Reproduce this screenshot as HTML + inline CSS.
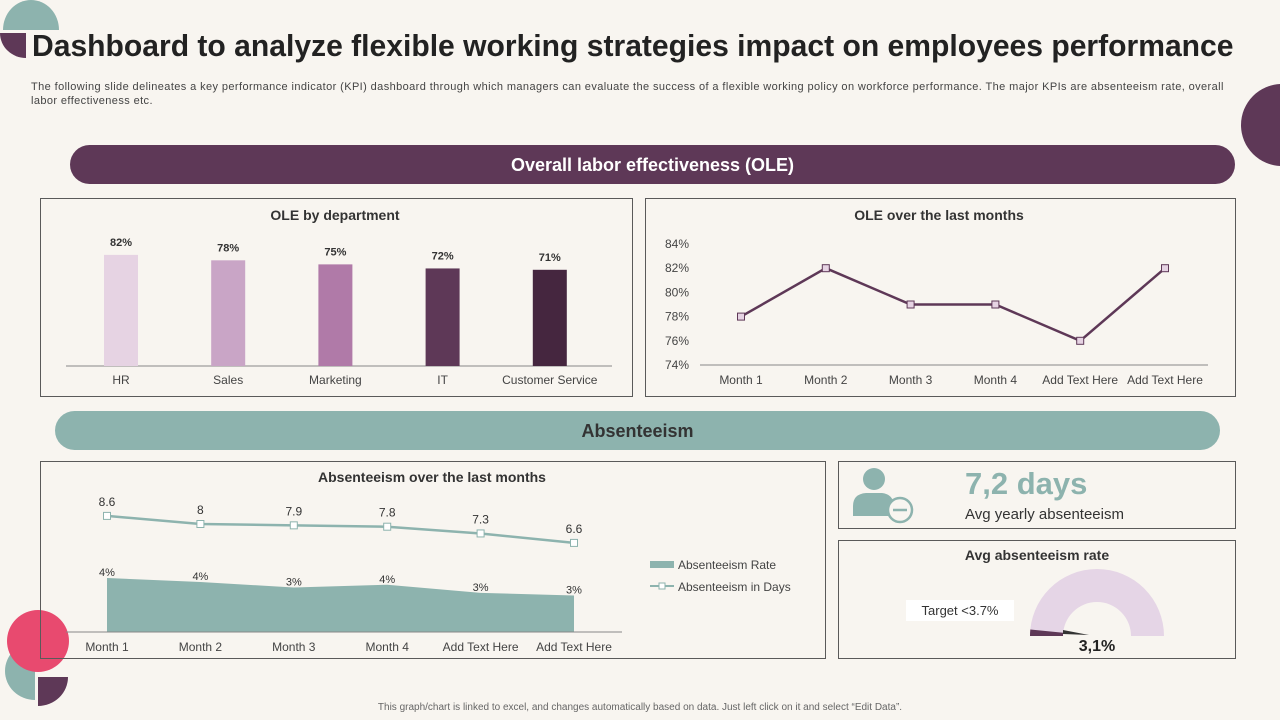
<!DOCTYPE html>
<html><head><meta charset="utf-8">
<style>
body{margin:0;width:1280px;height:720px;background:#f8f5f0;font-family:"Liberation Sans",sans-serif;overflow:hidden;position:relative}
.abs{position:absolute}
.panel{position:absolute;border:1px solid #5a5a5a;box-sizing:border-box}
svg text{font-family:"Liberation Sans",sans-serif}
</style></head><body>
<svg class="abs" style="left:0;top:0" width="1280" height="720">
<path d="M3,30 A28,30 0 0 1 59,30 Z" fill="#8db3ae"/>
<path d="M0,33 L26,33 L26,58 A26,25 0 0 1 0,33 Z" fill="#5e3857"/>
<circle cx="1282" cy="125" r="41" fill="#5e3857"/>
<path d="M35,642 L35,700 A30,29 0 0 1 35,642 Z" fill="#8db3ae"/>
<circle cx="38" cy="641" r="31" fill="#e84a6f"/>
<path d="M38,677 L68,677 A30,29 0 0 1 38,706 Z" fill="#5e3857"/>
</svg>
<div class="abs" style="left:32px;top:28px;font-size:31px;font-weight:bold;color:#222;white-space:nowrap;transform:scaleX(0.97);transform-origin:left">Dashboard to analyze flexible working strategies impact on employees performance</div>
<div class="abs" style="left:31px;top:80px;width:1240px;font-size:11px;line-height:14px;color:#444;letter-spacing:0.4px;white-space:nowrap">The following slide delineates a key performance indicator (KPI) dashboard through which managers can evaluate the success of a flexible working policy on workforce performance. The major KPIs are absenteeism rate, overall<br>labor effectiveness etc.</div>
<div class="abs" style="left:70px;top:145px;width:1165px;height:39px;border-radius:20px;background:#5e3857;color:#fff;font-weight:bold;font-size:18px;text-align:center;line-height:40px">Overall labor effectiveness (OLE)</div>
<div class="abs" style="left:55px;top:411px;width:1165px;height:39px;border-radius:20px;background:#8db3ae;color:#333;font-weight:bold;font-size:18px;text-align:center;line-height:40px">Absenteeism</div>

<div class="panel" style="left:40px;top:198px;width:593px;height:199px"></div>
<div class="panel" style="left:645px;top:198px;width:591px;height:199px"></div>
<div class="panel" style="left:40px;top:461px;width:786px;height:198px"></div>
<div class="panel" style="left:838px;top:461px;width:398px;height:68px"></div>
<div class="panel" style="left:838px;top:540px;width:398px;height:119px"></div>

<svg id="c" class="abs" style="left:0;top:0" width="1280" height="720"></svg>

<div class="abs" style="left:965px;top:466px;font-size:31px;font-weight:bold;color:#8db3ae">7,2 days</div>
<div class="abs" style="left:965px;top:506px;font-size:15px;color:#333">Avg yearly absenteeism</div>
<svg class="abs" style="left:848px;top:464px" width="70" height="60">
<circle cx="26" cy="15" r="11" fill="#8db3ae"/>
<path d="M5,52 L5,42 Q5,30 18,29 L34,29 Q44,30 46,40 L46,52 Z" fill="#8db3ae"/>
<circle cx="52" cy="46" r="12" fill="#f8f5f0" stroke="#8db3ae" stroke-width="2.5"/>
<line x1="45" y1="46" x2="59" y2="46" stroke="#8db3ae" stroke-width="2.5"/>
</svg>
<div class="abs" style="left:906px;top:600px;width:108px;height:21px;background:#fff;font-size:13px;color:#333;text-align:center;line-height:21px">Target &lt;3.7%</div>
<div class="abs" style="left:0;top:702px;width:1280px;text-align:center;font-size:10px;color:#666">This graph/chart is linked to excel, and changes automatically based on data. Just left click on it and select “Edit Data”.</div>

<script>
const deptCats=["HR","Sales","Marketing","IT","Customer Service"];
const deptVals=[82,78,75,72,71];
const deptColors=["#e6d3e3","#c9a5c6","#b07aa8","#5e3857","#45263f"];
const oleMonths=["Month 1","Month 2","Month 3","Month 4","Add Text Here","Add Text Here"];
const oleVals=[78,82,79,79,76,82];
const oleTicks=[74,76,78,80,82,84];
const absMonths=["Month 1","Month 2","Month 3","Month 4","Add Text Here","Add Text Here"];
const absDays=[8.6,8,7.9,7.8,7.3,6.6];
const absRate=[4.0,3.7,3.3,3.5,2.9,2.7];
const gaugeValue=3.1;
const gaugeMax=100;

const S=document.getElementById('c');
const NS="http://www.w3.org/2000/svg";
function mk(tag,attrs,parent){const e=document.createElementNS(NS,tag);for(const k in attrs)e.setAttribute(k,attrs[k]);(parent||S).appendChild(e);return e;}
function txt(x,y,s,attrs){const t=mk('text',Object.assign({x:x,y:y,'text-anchor':'middle','font-size':12,fill:'#444'},attrs||{}));t.textContent=s;return t;}

let t=txt(335,220,"OLE by department",{'font-weight':'bold','font-size':14,fill:'#333'});


const b1=366, s1=1.355, x1=i=>121+i*107.2;
let l=mk('line',{x1:66,x2:612,y1:b1,y2:b1,stroke:'#888'});


deptVals.forEach((v,i)=>{
  const h=v*s1;
  const r=mk('rect',{x:x1(i)-17,y:b1-h,width:34,height:h,fill:deptColors[i]});
  
  
  const lb=txt(x1(i),b1-h-9,v+"%",{'font-weight':'bold','font-size':11,fill:'#333'});
  
  
  const cl=txt(x1(i),384,deptCats[i]);
  
  
});

t=txt(939,220,"OLE over the last months",{'font-weight':'bold','font-size':14,fill:'#333'});


const y2=v=>365-(v-74)*12.1, x2=i=>741+i*84.8;
l=mk('line',{x1:700,x2:1208,y1:365,y2:365,stroke:'#888'});


oleTicks.forEach(v=>{const tk=txt(689,y2(v)+4,v+"%",{'text-anchor':'end'});
  
  });
oleMonths.forEach((m,i)=>{const tk=txt(x2(i),384,m);
  
  });
let pl=mk('polyline',{points:oleVals.map((v,i)=>x2(i)+','+y2(v)).join(' '),fill:'none',stroke:'#5e3857','stroke-width':2.5});


oleVals.forEach((v,i)=>{const p=mk('rect',{x:x2(i)-3.5,y:y2(v)-3.5,width:7,height:7,fill:'#e6d3e3',stroke:'#5e3857'});
  
  });

t=txt(432,482,"Absenteeism over the last months",{'font-weight':'bold','font-size':14,fill:'#333'});


const b3=632, s3=13.5, x3=i=>107+i*93.4;
let pts=absRate.map((v,i)=>x3(i)+','+(b3-v*s3));
let ar=mk('polygon',{points:x3(0)+','+b3+' '+pts.join(' ')+' '+x3(5)+','+b3,fill:'#8db3ae'});


l=mk('line',{x1:66,x2:622,y1:b3,y2:b3,stroke:'#888'});


absRate.forEach((v,i)=>{const lb=txt(x3(i),b3-v*s3-2,Math.round(v)+"%",{'font-size':11,fill:'#333'});
  
  });
pl=mk('polyline',{points:absDays.map((v,i)=>x3(i)+','+(b3-v*s3)).join(' '),fill:'none',stroke:'#8db3ae','stroke-width':2.5});


absDays.forEach((v,i)=>{
  const p=mk('rect',{x:x3(i)-3.5,y:b3-v*s3-3.5,width:7,height:7,fill:'#fff',stroke:'#8db3ae'});
  
  
  const lb=txt(x3(i),b3-v*s3-10,String(v),{'font-size':12,fill:'#333'});
  
  
});
absMonths.forEach((m,i)=>{const tk=txt(x3(i),651,m);
  
  });
let lg=mk('rect',{x:650,y:561,width:24,height:7,fill:'#8db3ae'});


lg=txt(678,569,"Absenteeism Rate",{'text-anchor':'start'});


lg=mk('line',{x1:650,x2:674,y1:586,y2:586,stroke:'#8db3ae','stroke-width':2});


lg=mk('rect',{x:659,y:583,width:6,height:6,fill:'#fff',stroke:'#8db3ae'});


lg=txt(678,591,"Absenteeism in Days",{'text-anchor':'start'});



t=txt(1037,560,"Avg absenteeism rate",{'font-weight':'bold','font-size':14,fill:'#333'});


const gx=1097, gy=636, R=67, r=34;
function arc(a0,a1){const p=(a,rr)=>[gx-rr*Math.cos(a),gy-rr*Math.sin(a)];
  const A=p(a0,R),B=p(a1,R),C=p(a1,r),D=p(a0,r);
  return `M${A} A${R},${R} 0 0 1 ${B} L${C} A${r},${r} 0 0 0 ${D} Z`;}
let g=mk('path',{d:arc(0,Math.PI),fill:'#e5d5e6'});


const ga=Math.PI*gaugeValue/gaugeMax;
g=mk('path',{d:arc(0,ga),fill:'#5e3857'});


g=mk('polygon',{points:`${gx-r},${gy-2} ${gx-r},${gy-6} ${gx-8},${gy-1}`,fill:'#333'});


t=txt(1097,651,gaugeValue.toFixed(1).replace('.',',')+"%",{'font-weight':'bold','font-size':16,fill:'#222'});


</script>
</body></html>
